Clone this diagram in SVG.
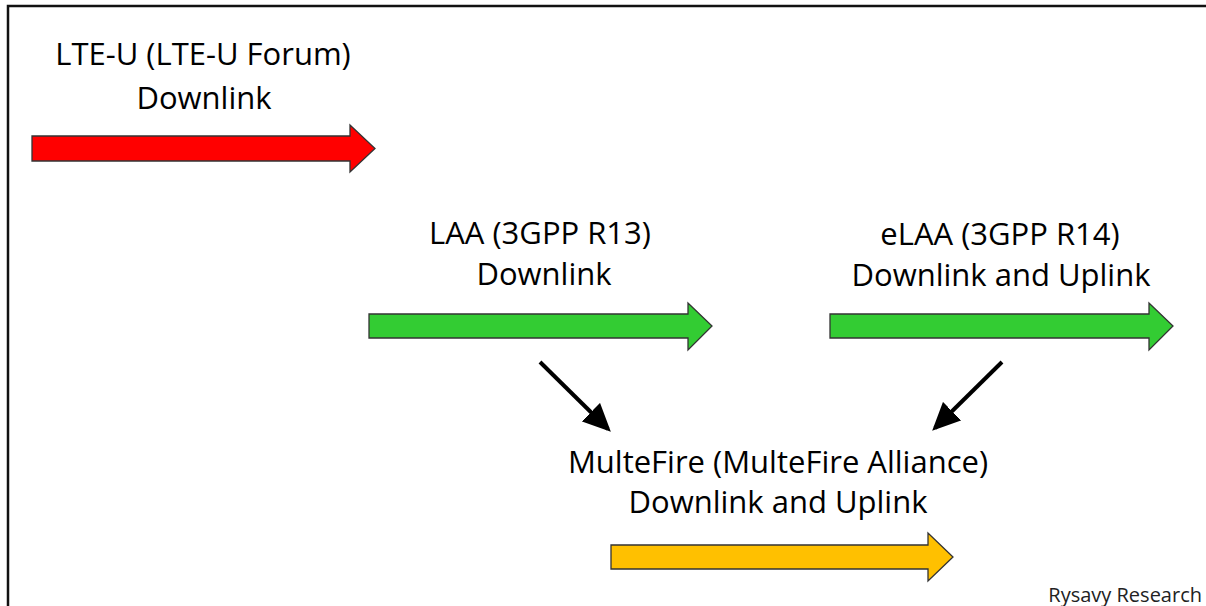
<svg xmlns="http://www.w3.org/2000/svg" width="1206" height="606" viewBox="0 0 1206 606">
  <style>
    .lbl { font-family: "Open Sans", "Liberation Sans", sans-serif; font-size: 31px; fill: #000; text-anchor: middle; }
    .credit { font-family: "Open Sans", "Liberation Sans", sans-serif; font-size: 20px; fill: #222; text-anchor: end; }
    .blk { stroke: #333; stroke-width: 1.3; stroke-linejoin: miter; }
    .conn { stroke: #000; stroke-width: 4; fill: none; }
  </style>
  <defs>
    <marker id="ah" markerWidth="7" markerHeight="6.5" refX="6" refY="3.25" orient="auto" markerUnits="strokeWidth">
      <path d="M0,0 L7,3.25 L0,6.5 Z" fill="#000"/>
    </marker>
  </defs>
  <rect width="1206" height="606" fill="#fff"/>
  <path d="M8,606 V6 H1206" fill="none" stroke="#111" stroke-width="2.5"/>

  <g id="lteu">
    <text class="lbl" x="203" y="65">LTE-U (LTE-U Forum)</text>
    <text class="lbl" x="204" y="109">Downlink</text>
    <path class="blk" fill="#ff0000" d="M32,136 H350 V125 L375,148.5 L350,172 V161 H32 Z"/>
  </g>

  <g id="laa">
    <text class="lbl" x="540" y="244">LAA (3GPP R13)</text>
    <text class="lbl" x="544" y="285">Downlink</text>
    <path class="blk" fill="#33cc33" d="M369,314 H688 V303 L712,326 L688,350 V338 H369 Z"/>
  </g>

  <g id="elaa">
    <text class="lbl" x="1000" y="245">eLAA (3GPP R14)</text>
    <text class="lbl" x="1001" y="286">Downlink and Uplink</text>
    <path class="blk" fill="#33cc33" d="M830,314 H1149 V303 L1173,326 L1149,350 V338 H830 Z"/>
  </g>

  <g id="multefire">
    <text class="lbl" x="778" y="473">MulteFire (MulteFire Alliance)</text>
    <text class="lbl" x="778" y="513">Downlink and Uplink</text>
    <path class="blk" fill="#ffc000" d="M611,545 H928 V533 L953,557 L928,581 V569 H611 Z"/>
  </g>

  <g id="connectors">
    <line class="conn" x1="540" y1="362" x2="608" y2="429" marker-end="url(#ah)"/>
    <line class="conn" x1="1002" y1="362" x2="935" y2="428" marker-end="url(#ah)"/>
  </g>

  <text class="credit" x="1202" y="602">Rysavy Research</text>
</svg>
